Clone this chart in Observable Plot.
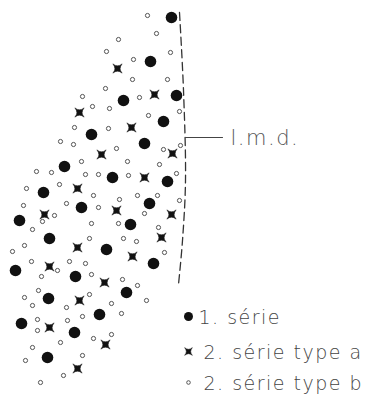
<!DOCTYPE html>
<html><head><meta charset="utf-8">
<script src="https://cdn.jsdelivr.net/npm/d3@7"></script>
<script src="https://cdn.jsdelivr.net/npm/@observablehq/plot@0.6"></script>
<style>html,body{margin:0;padding:0;background:#fff} svg{display:block}</style>
</head><body><div id="chart"></div>
<script>
// positions (x right, y down)
const serie1 = [[171,17],[150,61],[176,95],[123,100],[163,121],[91,134],[144,143],[64,166],[112,177],[167,181],[43,192],[81,207],[149,203],[19,220],[130,224],[49,238],[106,249],[153,263],[15,270],[75,276],[126,292],[48,298],[99,314],[21,323],[74,332],[47,357]];
const typeA = [[117,68],[154,94],[79,112],[131,127],[101,154],[172,153],[144,177],[77,188],[44,214],[116,210],[171,214],[161,237],[77,247],[132,256],[49,266],[104,282],[79,300],[49,327],[105,344],[77,368]];
const typeB = [[147,15],[156,33],[118,39],[106,51],[170,52],[133,59],[132,79],[167,79],[105,88],[82,96],[139,97],[92,106],[109,108],[179,111],[148,115],[74,127],[108,128],[60,141],[73,144],[116,148],[180,145],[163,149],[81,161],[127,161],[159,164],[36,171],[51,172],[85,174],[98,174],[128,175],[176,173],[59,184],[26,188],[93,195],[137,195],[157,195],[179,200],[119,199],[23,205],[66,203],[98,207],[54,215],[42,221],[144,213],[91,223],[118,223],[32,229],[158,227],[89,238],[123,238],[136,241],[24,245],[12,251],[164,252],[31,261],[69,261],[85,263],[57,270],[41,276],[91,274],[122,279],[137,285],[38,290],[24,297],[89,294],[32,305],[66,307],[111,303],[146,300],[82,316],[121,313],[37,319],[67,320],[37,330],[93,338],[111,334],[60,342],[32,347],[82,355],[25,360],[63,375],[40,382]];
const limitLine = [[179,12],[183,90],[185,180],[182,240],[178,284]];
const limitTick = [[185,137],[222,137]];
const limitLabel = ["l.m.d."];
const limitLabelPos = [[230,144]];
const legendLabels = ["1. série","2. série type a","2. série type b"];
const legendMarkPos = [[188,316],[188,351],[188,382]];
const legendTextPos = [[198,323],[203,358],[203,389]];

const star = {
  draw(ctx, size) {
    const t = Math.sqrt(size / Math.PI);
    const c = t * 0.15;
    ctx.moveTo(t, t);
    ctx.quadraticCurveTo(0, c, -t, t);
    ctx.quadraticCurveTo(-c, 0, -t, -t);
    ctx.quadraticCurveTo(0, -c, t, -t);
    ctx.quadraticCurveTo(c, 0, t, t);
    ctx.closePath();
  }
};

const font = "'DejaVu Sans', 'Liberation Sans', sans-serif";

const chart = Plot.plot({
  width: 367, height: 398,
  margin: 0,
  x: {domain: [0, 367], axis: null},
  y: {domain: [398, 0], axis: null},
  style: {fontFamily: font, background: "#fff"},
  marks: [
    Plot.line(limitLine, {x: d => d[0], y: d => d[1], stroke: "#333", strokeWidth: 1.3, strokeDasharray: "8,4.5", curve: "catmull-rom"}),
    Plot.line(limitTick, {x: d => d[0], y: d => d[1], stroke: "#444", strokeWidth: 1.1}),
    Plot.text(limitLabel, {x: limitLabelPos.map(d => d[0]), y: limitLabelPos.map(d => d[1]), text: d => d, textAnchor: "start", lineAnchor: "bottom", fontSize: 21, fontWeight: 200, fill: "#555"}),
    Plot.dot(typeB, {x: d => d[0], y: d => d[1], r: 2.1, stroke: "#555", strokeWidth: 1, fill: "#fff"}),
    Plot.dot(typeA, {x: d => d[0], y: d => d[1], r: 4.6, symbol: star, fill: "#111", stroke: "#222", strokeWidth: 0.6}),
    Plot.dot(serie1, {x: d => d[0], y: d => d[1], r: 5.8, fill: "#111"}),
    Plot.dot([legendMarkPos[0]], {x: d => d[0], y: d => d[1], r: 4.5, fill: "#111"}),
    Plot.dot([legendMarkPos[1]], {x: d => d[0], y: d => d[1], r: 3.8, symbol: star, fill: "#111", stroke: "#222", strokeWidth: 0.6}),
    Plot.dot([legendMarkPos[2]], {x: d => d[0], y: d => d[1], r: 1.8, stroke: "#555", strokeWidth: 1, fill: "#fff"}),
    Plot.text(legendLabels, {x: legendTextPos.map(d => d[0]), y: legendTextPos.map(d => d[1]), text: d => d, textAnchor: "start", lineAnchor: "bottom", fontSize: 19, fontWeight: 200, fill: "#444"})
  ]
});
document.getElementById("chart").appendChild(chart);
d3.select(chart).selectAll("text").each(function() {
  const s = d3.select(this);
  const t = s.text();
  if (t === "l.m.d.") s.attr("letter-spacing", "1.5px");
  else if (legendLabels.includes(t)) s.attr("letter-spacing", "1.5px");
});
</script>
</body></html>
